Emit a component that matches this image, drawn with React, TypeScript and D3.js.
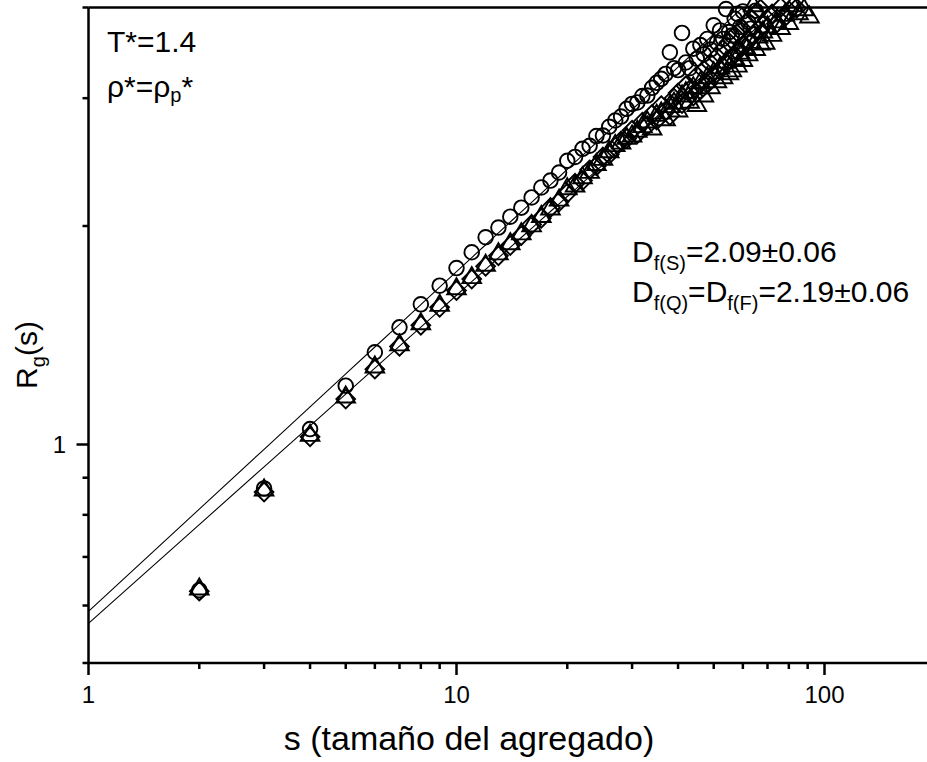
import { line, range, scaleLog, symbol, symbolCircle, symbolTriangle } from 'd3';

// cluster size s for each series
const sizesS = [
  2, 3, 4, 5, 6, 7, 8, 9, 10, 11, 12, 13, 14, 15, 16, 17, 18, 19, 20, 21, 22, 23, 24, 25, 26, 27, 28, 29, 30,
  31, 32, 33, 34, 35, 36, 37, 38, 39, 40, 41, 42, 43, 44, 45, 46, 47, 48, 49, 50, 51, 52, 53, 54, 55, 56, 57,
  58, 59, 60, 62, 63, 65,
];
const radiusS = [
  0.63, 0.87, 1.05, 1.205, 1.34, 1.45, 1.56, 1.655, 1.75, 1.84, 1.93, 1.99, 2.06, 2.12, 2.19, 2.26, 2.31, 2.37,
  2.46, 2.49, 2.555, 2.58, 2.66, 2.665, 2.74, 2.795, 2.83, 2.9, 2.946, 2.96, 3.02, 3.025, 3.1, 3.15, 3.19, 3.24,
  3.47, 3.3, 3.28, 3.69, 3.36, 3.3, 3.51, 3.4, 3.55, 3.45, 3.62, 3.5, 3.78, 3.58, 3.72, 3.62, 3.98, 3.7, 3.66,
  3.86, 3.92, 3.76, 3.95, 3.82, 3.74, 3.96,
];

const sizesF = [
  2, 3, 4, 5, 6, 7, 8, 9, 10, 11, 12, 13, 14, 15, 16, 17, 18, 19, 20, 21, 22, 23, 24, 25, 26, 27, 28, 29, 30,
  31, 32, 33, 34, 35, 36, 37, 38, 39, 40, 41, 42, 43, 44, 45, 46, 47, 48, 49, 50, 51, 52, 53, 54, 55, 56, 57,
  58, 59, 60, 61, 62, 63, 64, 65, 66, 67, 68, 69, 70, 72, 74, 76, 78, 80, 82, 85, 88, 91,
];
const radiusF = [
  0.632, 0.865, 1.029, 1.162, 1.278, 1.371, 1.466, 1.554, 1.638, 1.697, 1.765, 1.83, 1.89, 1.95, 2.0, 2.06,
  2.11, 2.17, 2.25, 2.27, 2.33, 2.37, 2.43, 2.47, 2.53, 2.58, 2.6, 2.64, 2.66, 2.7, 2.74, 2.78, 2.72, 2.84, 2.86,
  2.8, 2.92, 2.95, 2.88, 3.02, 3.05, 2.96, 3.1, 2.93, 3.15, 3.02, 3.2, 3.1, 3.25, 3.16, 3.3, 3.2, 3.36, 3.24,
  3.27, 3.4, 3.32, 3.46, 3.38, 3.52, 3.44, 3.58, 4.02, 3.5, 3.64, 3.56, 3.7, 3.57, 3.76, 3.66, 3.82, 3.74, 3.9,
  3.8, 4.02, 3.92, 3.97, 3.88,
];

const sizesQ = [
  2, 3, 4, 5, 6, 7, 8, 9, 10, 11, 12, 13, 14, 15, 16, 17, 18, 19, 20, 21, 22, 23, 24, 25, 26, 27, 28, 29, 30,
  31, 32, 33, 34, 35, 36, 37, 38, 39, 40, 41, 42, 43, 44, 45, 46, 47, 48, 49, 50, 51, 52, 53, 54, 55, 56, 57,
  58, 59, 60, 61, 62, 63, 64, 65, 66, 67, 68, 70, 72, 74, 76, 78, 80, 84,
];
const radiusQ = [
  0.628, 0.86, 1.025, 1.155, 1.27, 1.365, 1.46, 1.545, 1.63, 1.69, 1.76, 1.82, 1.88, 1.94, 2.01, 2.05, 2.12,
  2.16, 2.22, 2.29, 2.31, 2.39, 2.42, 2.49, 2.51, 2.57, 2.62, 2.64, 2.71, 2.68, 2.78, 2.75, 2.85, 2.8, 2.93,
  2.88, 2.84, 3.0, 3.05, 2.95, 3.12, 3.08, 3.02, 3.22, 3.08, 3.28, 3.14, 3.35, 3.22, 3.42, 3.28, 3.5, 3.35,
  3.58, 3.42, 3.66, 3.48, 3.72, 3.55, 3.8, 3.6, 3.86, 3.66, 3.92, 3.72, 3.98, 3.78, 3.85, 3.92, 3.8, 4.0, 3.88,
  3.96, 3.99,
];

// power-law fits R = a * s^k
const fitS = { a: 0.589, k: 0.468 };
const fitQF = { a: 0.567, k: 0.452 };

const xMajorTicks = [1, 10, 100];
const xMinorTicks = [2, 3, 4, 5, 6, 7, 8, 9, 20, 30, 40, 50, 60, 70, 80, 90];
const yMajorTicks = [1];
const yMinorTicks = [0.5, 0.6, 0.7, 0.8, 0.9, 2, 3, 4];

const width = 927;
const height = 762;
const left = 88.5;
const right = 927;
const top = 7.5;
const bottom = 663;
const font = "'Liberation Sans', Arial, sans-serif";

const diamond = {
  draw(context: any, size: number) {
    const r = Math.sqrt(size / 2);
    context.moveTo(0, -r);
    context.lineTo(r, 0);
    context.lineTo(0, r);
    context.lineTo(-r, 0);
    context.closePath();
  },
};

export default function App() {
  const x = scaleLog().domain([1, 200]).range([left, left + 368 * Math.log10(200)]);
  const y = scaleLog().domain([0.5, 4]).range([bottom, top]);

  const circlePath = symbol().type(symbolCircle).size(Math.PI * 7.3 * 7.3)() ?? '';
  const trianglePath = symbol().type(symbolTriangle).size(150)() ?? '';
  const diamondPath = symbol().type(diamond).size(175)() ?? '';

  const fitLine = (fit: { a: number; k: number }) =>
    line<number>()
      .x(s => x(s))
      .y(s => y(fit.a * Math.pow(s, fit.k)))(range(1, 201, 1)) ?? '';

  const series = [
    { sizes: sizesF, values: radiusF, path: trianglePath },
    { sizes: sizesQ, values: radiusQ, path: diamondPath },
    { sizes: sizesS, values: radiusS, path: circlePath },
  ];

  return (
    <svg
      width={width}
      height={height}
      viewBox={`0 0 ${width} ${height}`}
      style={{ position: 'absolute', left: 0, top: 0, background: '#fff' }}
      fontFamily={font}
    >
      <defs>
        <clipPath id="plot-area">
          <rect x={left} y={top} width={right - left} height={bottom - top} />
        </clipPath>
      </defs>
      <rect width={width} height={height} fill="#fff" />

      <g clipPath="url(#plot-area)" fill="none" stroke="#000" strokeWidth={1.1}>
        <path d={fitLine(fitS)} />
        <path d={fitLine(fitQF)} />
      </g>

      {series.map((ser, i) => (
        <g key={i} fill="none" stroke="#000" strokeWidth={1.9}>
          {ser.sizes.map((s, j) => (
            <path key={s} d={ser.path} transform={`translate(${x(s)},${y(ser.values[j])})`} />
          ))}
        </g>
      ))}

      {/* axes */}
      <g stroke="#000" strokeWidth={2.5} fill="none">
        <line x1={left} x2={right} y1={bottom} y2={bottom} />
        <line x1={left} x2={right} y1={top} y2={top} />
        <line x1={left} x2={left} y1={top} y2={bottom} />
        {xMajorTicks.map(t => (
          <line key={t} x1={x(t)} x2={x(t)} y1={bottom} y2={bottom + 12} />
        ))}
        {xMinorTicks.map(t => (
          <line key={t} x1={x(t)} x2={x(t)} y1={bottom} y2={bottom + 6} />
        ))}
        {yMajorTicks.map(t => (
          <line key={t} x1={left - 12} x2={left} y1={y(t)} y2={y(t)} />
        ))}
        {yMinorTicks.map(t => (
          <line key={t} x1={left - 6} x2={left} y1={y(t)} y2={y(t)} />
        ))}
      </g>

      {xMajorTicks.map(t => (
        <text key={t} x={x(t)} y={703} textAnchor="middle" fontSize={24}>
          {t}
        </text>
      ))}
      {yMajorTicks.map(t => (
        <text key={t} x={66} y={y(t) + 8.5} textAnchor="end" fontSize={24}>
          {t}
        </text>
      ))}

      <text x={469} y={750} textAnchor="middle" fontSize={34}>
        s (tamaño del agregado)
      </text>
      <text transform="translate(37,355) rotate(-90)" textAnchor="middle" fontSize={30}>
        R<tspan fontSize={20} dy={8}>g</tspan>
        <tspan dy={-8}>(s)</tspan>
      </text>

      <text x={107} y={52} fontSize={30}>
        T*=1.4
      </text>
      <text x={107} y={97} fontSize={30}>
        ρ*=ρ<tspan fontSize={20} dy={5}>p</tspan>
        <tspan dy={-5}>*</tspan>
      </text>

      <text x={632} y={262} fontSize={30}>
        D<tspan fontSize={20} dy={8}>f(S)</tspan>
        <tspan dy={-8}>=2.09±0.06</tspan>
      </text>
      <text x={632} y={302} fontSize={30}>
        D<tspan fontSize={20} dy={8}>f(Q)</tspan>
        <tspan dy={-8}>=D</tspan>
        <tspan fontSize={20} dy={8}>f(F)</tspan>
        <tspan dy={-8}>=2.19±0.06</tspan>
      </text>
    </svg>
  );
}
